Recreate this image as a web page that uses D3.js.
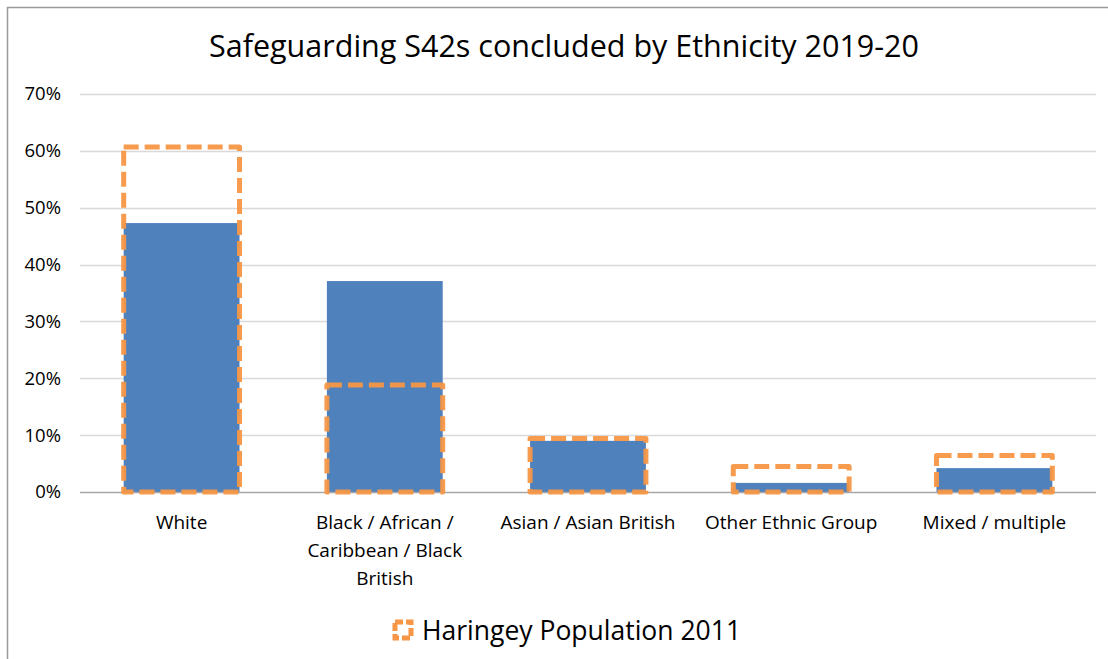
<!DOCTYPE html>
<html>
<head>
<meta charset="utf-8">
<script src="https://cdn.jsdelivr.net/npm/d3@7"></script>
<style>
  body { margin: 0; background: #fff; }
  text { font-family: "Open Sans", "Noto Sans", sans-serif; fill: #000; }
</style>
</head>
<body>
<div id="chart"></div>
<script>
// chart data
const categories = ['White', 'Black / African / Caribbean / Black British', 'Asian / Asian British', 'Other Ethnic Group', 'Mixed / multiple'];
const labelLines = [['White'], ['Black / African /', 'Caribbean / Black', 'British'], ['Asian / Asian British'], ['Other Ethnic Group'], ['Mixed / multiple']];
const s42Values = [0.473, 0.371, 0.090, 0.016, 0.042];
const populationValues = [0.607, 0.188, 0.094, 0.045, 0.064];
const yTicks = [0, 0.1, 0.2, 0.3, 0.4, 0.5, 0.6, 0.7];
const title = 'Safeguarding S42s concluded by Ethnicity 2019-20';
const legendLabel = 'Haringey Population 2011';

const width = 1108, height = 659;
const margin = {top: 94, right: 12, bottom: 167, left: 80};
const blue = '#4f81bd', orange = '#f79646';

const svg = d3.select('#chart').append('svg')
    .attr('width', width)
    .attr('height', height);

// outer frame (chart border runs off the right and bottom)
svg.append('rect')
    .attr('x', 7.5).attr('y', 7.5)
    .attr('width', width + 10).attr('height', height + 10)
    .attr('fill', 'none')
    .attr('stroke', '#9a9a9a')
    .attr('stroke-width', 1.5);

const x = d3.scaleBand()
    .domain(categories)
    .range([margin.left, width - margin.right])
    .paddingInner(0.43)
    .paddingOuter(0.215);

const y = d3.scaleLinear()
    .domain([0, 0.7])
    .range([height - margin.bottom, margin.top]);

// title
svg.append('text')
    .attr('x', 564)
    .attr('y', 57)
    .attr('text-anchor', 'middle')
    .style('font-size', '30.5px')
    .text(title);

// gridlines
svg.append('g').selectAll('line')
    .data(yTicks.filter(d => d > 0))
    .join('line')
    .attr('x1', margin.left).attr('x2', width - margin.right)
    .attr('y1', d => Math.round(y(d)) + 0.5).attr('y2', d => Math.round(y(d)) + 0.5)
    .attr('stroke', '#d9d9d9')
    .attr('stroke-width', 1.5);

// y axis labels
const yAxis = d3.axisLeft(y).tickValues(yTicks).tickFormat(d3.format('.0%')).tickSize(0).tickPadding(19);
const yAxisGroup = svg.append('g')
    .attr('transform', `translate(${margin.left},0)`)
    .call(yAxis);
yAxisGroup.select('.domain').remove();
yAxisGroup.selectAll('text').style('font-size', '18.5px').style('font-family', '"Open Sans", sans-serif').attr('fill', '#000');

// blue bars
svg.append('g').selectAll('rect')
    .data(categories)
    .join('rect')
    .attr('x', d => x(d))
    .attr('y', (d, i) => y(s42Values[i]))
    .attr('width', x.bandwidth())
    .attr('height', (d, i) => y(0) - y(s42Values[i]))
    .attr('fill', blue);

// baseline
svg.append('line')
    .attr('x1', margin.left).attr('x2', width - margin.right)
    .attr('y1', y(0) + 0.5).attr('y2', y(0) + 0.5)
    .attr('stroke', '#a6a6a6')
    .attr('stroke-width', 1.5);

// population outlines
svg.append('g').selectAll('rect')
    .data(categories)
    .join('rect')
    .attr('x', d => x(d))
    .attr('y', (d, i) => y(populationValues[i]))
    .attr('width', x.bandwidth())
    .attr('height', (d, i) => y(0) - y(populationValues[i]))
    .attr('fill', 'none')
    .attr('stroke', orange)
    .attr('stroke-width', 5)
    .attr('stroke-dasharray', '15,6')
    .attr('stroke-linejoin', 'round')
    .attr('opacity', 0.95);

// x labels
const xLabels = svg.append('g').selectAll('text')
    .data(categories)
    .join('text')
    .attr('x', d => x(d) + x.bandwidth() / 2)
    .attr('y', 529)
    .attr('text-anchor', 'middle')
    .style('font-size', '19px');
xLabels.each(function (d, i) {
    d3.select(this).selectAll('tspan')
        .data(labelLines[i])
        .join('tspan')
        .attr('x', x(d) + x.bandwidth() / 2)
        .attr('dy', (t, j) => j === 0 ? 0 : 28)
        .text(t => t);
});

// legend
const legend = svg.append('g').attr('transform', 'translate(395,622)');
legend.append('rect')
    .attr('x', 0).attr('y', 0)
    .attr('width', 16).attr('height', 16)
    .attr('fill', 'none')
    .attr('stroke', orange)
    .attr('stroke-width', 5)
    .attr('stroke-dasharray', '8,3');
legend.append('text')
    .attr('x', 27)
    .attr('y', 18)
    .style('font-size', '26.5px')
    .text(legendLabel);
</script>
</body>
</html>
